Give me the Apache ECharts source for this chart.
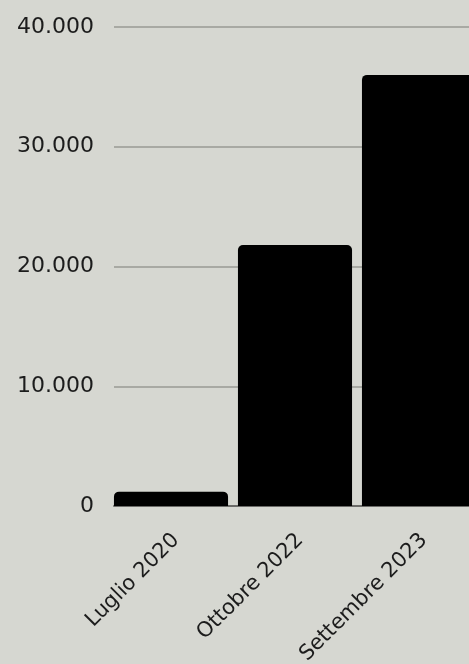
<!DOCTYPE html>
<html><head><meta charset="utf-8">
<script src="https://cdn.jsdelivr.net/npm/echarts@6/dist/echarts.min.js"></script>
<style>html,body{margin:0;padding:0;background:#d6d7d1;overflow:hidden;width:469px;height:664px;}#c{width:490px;height:664px;}</style>
</head><body><div id="c"></div>
<script>
const categories = ["Luglio 2020", "Ottobre 2022", "Settembre 2023"];
const values = [1200, 21800, 36000];
const yTicks = [0, 10000, 20000, 30000, 40000];

const FONT = '"DejaVu Sans", sans-serif';
const yMin = yTicks[0], yMax = yTicks[yTicks.length - 1], yStep = yTicks[1] - yTicks[0];

const chart = echarts.init(document.getElementById('c'));
chart.setOption({
  backgroundColor: '#d6d7d1',
  animation: false,
  grid: [
    { left: 109, top: 27, width: 372, height: 479, containLabel: false, outerBoundsMode: 'none' },
    { left: 114, top: 27, width: 372, height: 479, containLabel: false, outerBoundsMode: 'none' }
  ],
  xAxis: [
    { type: 'category', data: categories, gridIndex: 0, show: false },
    {
      type: 'category', data: categories, gridIndex: 1,
      axisLine: { show: true, lineStyle: { color: '#6b6b68', width: 2 } },
      axisTick: { show: false },
      axisLabel: { rotate: 45, color: '#1c1c1c', fontSize: 21, fontFamily: FONT, margin: 31 }
    }
  ],
  yAxis: [
    { type: 'value', gridIndex: 0, min: yMin, max: yMax, interval: yStep, show: false, splitLine: { show: false } },
    {
      type: 'value', gridIndex: 1, min: yMin, max: yMax, interval: yStep,
      axisLine: { show: false },
      axisTick: { show: false },
      splitLine: { lineStyle: { color: '#a8a9a3', width: 2 } },
      axisLabel: {
        color: '#1c1c1c', fontSize: 22, fontFamily: FONT, margin: 20,
        formatter: v => v.toLocaleString('de-DE')
      }
    }
  ],
  series: [{
    type: 'bar',
    xAxisIndex: 0, yAxisIndex: 0,
    data: values,
    barCategoryGap: '8%',
    itemStyle: { color: '#000', borderRadius: [5, 5, 0, 0] }
  }]
});
</script></body></html>
